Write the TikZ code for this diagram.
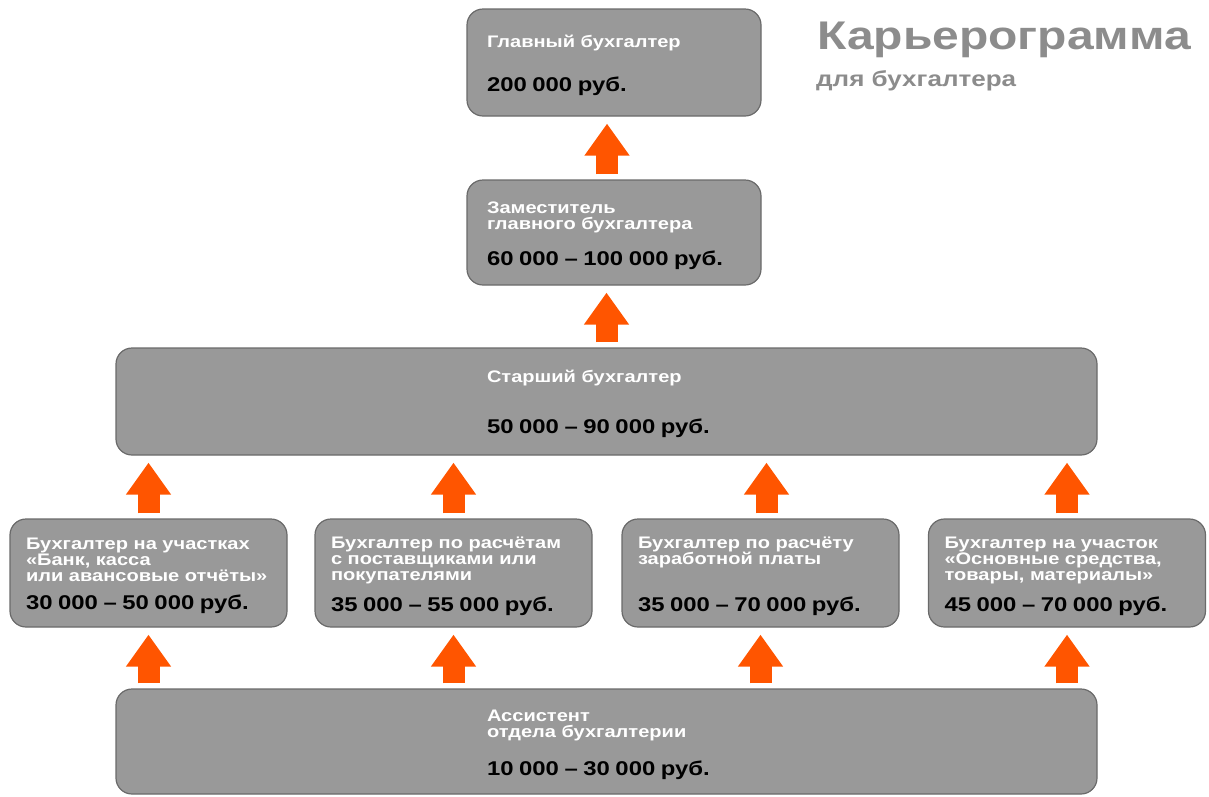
\documentclass[tikz,border=0pt]{standalone}
\usepackage{fontspec}
\setmainfont{Liberation Sans}[FakeStretch=1.2]
\usetikzlibrary{arrows.meta, positioning}
\definecolor{boxgray}{HTML}{999999}
\definecolor{boxline}{HTML}{6A6A6A}
\definecolor{arrorange}{HTML}{FF5500}
\definecolor{titlegray}{HTML}{8C8C8C}
\newcommand{\lbl}{\fontsize{16.7}{16}\selectfont\bfseries}
\newcommand{\sal}{\fontsize{19.9}{20}\selectfont\bfseries\color{black}}
\tikzset{
  post/.style={rectangle,rounded corners=16pt,draw=boxline,line width=1.2pt,fill=boxgray,
    align=left,font=\lbl,text=white,inner xsep=20pt,inner ysep=0pt,
    minimum width=294pt,text width=254pt,minimum height=107pt,
    execute at begin node={\rule{0pt}{18pt}}},
  wide/.style={post,inner xsep=0pt,minimum width=981pt,text width=239pt},
  mid/.style={post,inner xsep=16pt,minimum width=277pt,text width=245pt,minimum height=108pt},
  uparr/.style={-{Triangle[width=43pt,length=32pt]},line width=22pt,draw=arrorange,
    shorten <=5pt,shorten >=7pt},
  ttl/.style={font=\fontsize{40}{44}\selectfont\bfseries,text=titlegray,inner sep=0pt,anchor=base west},
  subttl/.style={font=\fontsize{21.7}{24}\selectfont\bfseries,text=titlegray,inner sep=0pt,anchor=base west}
}
\begin{document}
\begin{tikzpicture}[x=1pt,y=-1pt]
\useasboundingbox (0,0) rectangle (1209,796);
% levels, top to bottom
\node[post] (top) at (614,62.5) {Главный бухгалтер\\[25pt]{\sal 200~000 руб.}};
\node[post,minimum height=105pt] (dep) at (614,232.5) {Заместитель\\главного бухгалтера\\[17pt]{\sal 60~000 – 100~000 руб.}};
\node[wide] (senior) at (606.5,401.5) {Старший бухгалтер\\[32pt]{\sal 50~000 – 90~000 руб.}};
\node[mid] (m1) at (148.5,573) {Бухгалтер на участках\\«Банк, касса\\или авансовые отчёты»\\[12pt]{\sal 30~000 – 50~000 руб.}};
\node[mid] (m2) at (453.5,573) {Бухгалтер по расчётам\\с поставщиками или\\покупателями\\[12pt]{\sal 35~000 – 55~000 руб.}};
\node[mid] (m3) at (760.5,573) {Бухгалтер по расчёту\\заработной платы\\[28pt]{\sal 35~000 – 70~000 руб.}};
\node[mid] (m4) at (1067,573) {Бухгалтер на участок\\«Основные средства,\\товары, материалы»\\[12pt]{\sal 45~000 – 70~000 руб.}};
\node[wide,minimum height=105pt] (asst) at (606.5,741.5) {Ассистент\\отдела бухгалтерии\\[19pt]{\sal 10~000 – 30~000 руб.}};
% title
\node[ttl] (title) at (817,49) {Карьерограмма};
\node[subttl] (subtitle) at (816,86) {для бухгалтера};
% arrows
\draw[uparr] ([xshift=-7pt]dep.north) -- ([xshift=-7pt]top.south);
\draw[uparr] (senior.north) -- (senior.north |- dep.south);
\foreach \m in {m1,m2,m4}
  \draw[uparr] (\m.north) -- (\m.north |- senior.south);
\draw[uparr] ([xshift=6pt]m3.north) -- ([xshift=6pt]m3.north |- senior.south);
\foreach \m in {m1,m2,m3,m4}
  \draw[uparr] (asst.north -| \m.south) -- (\m.south);
\end{tikzpicture}
\end{document}
